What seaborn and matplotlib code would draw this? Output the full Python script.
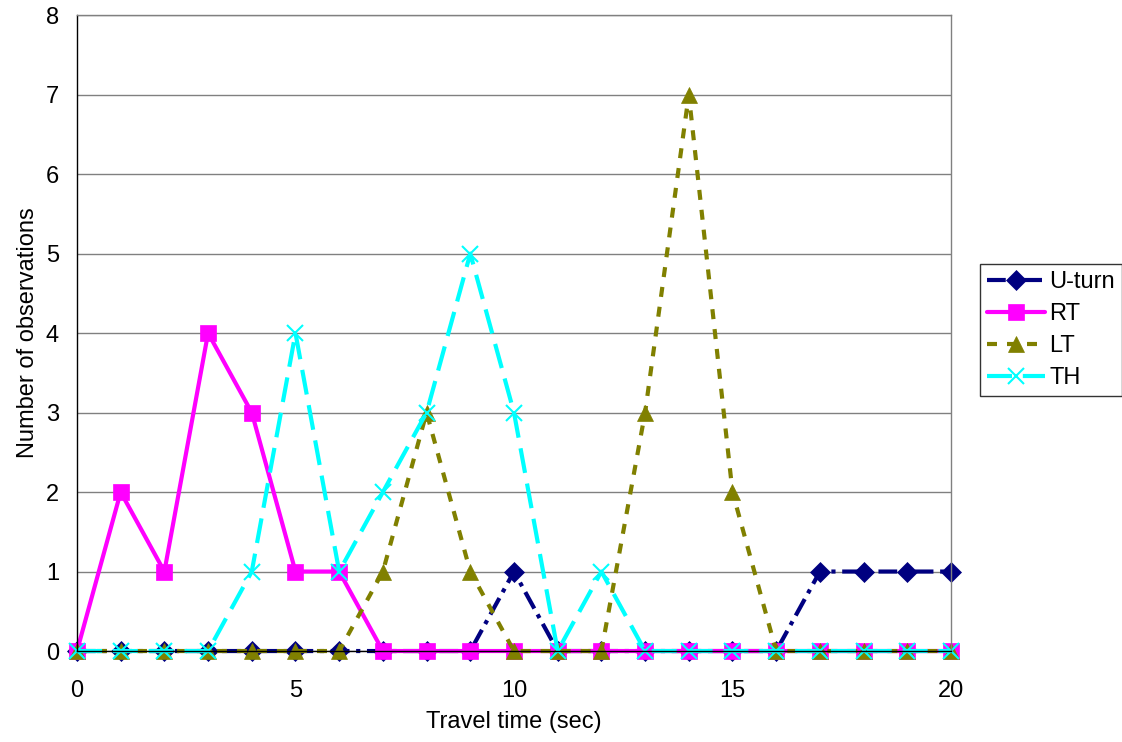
import matplotlib
matplotlib.use("Agg")
import matplotlib.pyplot as plt
import seaborn as sns
import pandas as pd

travel_time = list(range(21))
uturn = [0, 0, 0, 0, 0, 0, 0, 0, 0, 0, 1, 0, 0, 0, 0, 0, 0, 1, 1, 1, 1]
rt = [0, 2, 1, 4, 3, 1, 1, 0, 0, 0, 0, 0, 0, 0, 0, 0, 0, 0, 0, 0, 0]
lt = [0, 0, 0, 0, 0, 0, 0, 1, 3, 1, 0, 0, 0, 3, 7, 2, 0, 0, 0, 0, 0]
th = [0, 0, 0, 0, 1, 4, 1, 2, 3, 5, 3, 0, 1, 0, 0, 0, 0, 0, 0, 0, 0]

series_names = ["U-turn", "RT", "LT", "TH"]
series_values = [uturn, rt, lt, th]

styles = {
    "U-turn": dict(color="#000080", marker="D", ms=10, dashes=(4.5, 1.6, 1, 1.6)),
    "RT": dict(color="#FF00FF", marker="s", ms=12, dashes=None),
    "LT": dict(color="#808000", marker="^", ms=12, dashes=(2.4, 2.4)),
    "TH": dict(color="#00FFFF", marker="x", ms=12, dashes=(6, 2.6)),
}

sns.set_style("white")
plt.rcParams["font.family"] = ["Liberation Sans", "DejaVu Sans"]
plt.rcParams["text.color"] = "black"
plt.rcParams["axes.labelcolor"] = "black"
plt.rcParams["xtick.color"] = "black"
plt.rcParams["ytick.color"] = "black"

fig = plt.figure(figsize=(11.22, 7.42), dpi=100)
ax = fig.add_axes([0.0686, 0.1226, 0.779, 0.857])

for name, vals in zip(series_names, series_values):
    st = styles[name]
    df = pd.DataFrame({"x": travel_time, "y": vals})
    sns.lineplot(data=df, x="x", y="y", ax=ax, color=st["color"], lw=3,
                 marker=st["marker"], markersize=st["ms"],
                 markeredgecolor=st["color"], markerfacecolor=st["color"],
                 markeredgewidth=1.5 if st["marker"] == "x" else 0.5,
                 label=name, clip_on=False)
    line = ax.get_lines()[-1]
    if st["dashes"] is not None:
        line.set_dashes(st["dashes"])
        line.set_dash_capstyle("butt")

ax.set_xlim(0, 20)
ax.set_ylim(0, 8)
ax.set_xticks([0, 5, 10, 15, 20])
ax.set_yticks(range(9))
ax.yaxis.grid(True, color="#808080", lw=1)
ax.set_axisbelow(True)
ax.tick_params(axis="y", length=6, width=1, colors="black", labelsize=17, pad=7)
ax.tick_params(axis="x", length=0, colors="black", labelsize=17, pad=21)
for side in ["top", "right"]:
    ax.spines[side].set_color("#808080")
    ax.spines[side].set_linewidth(1)
for side in ["left", "bottom"]:
    ax.spines[side].set_color("black")
    ax.spines[side].set_linewidth(1)

ax.set_xlabel("Travel time (sec)", fontsize=17, labelpad=6, color="black")
ax.set_ylabel("Number of observations", fontsize=17, labelpad=5, color="black")

leg = ax.legend(loc="center left", bbox_to_anchor=(1.033, 0.505), fontsize=17,
                frameon=True, fancybox=False, edgecolor="black",
                handlelength=2.45, borderpad=0.3, labelspacing=0.42,
                handletextpad=0.2, borderaxespad=0)
leg.get_frame().set_linewidth(1)
for t in leg.get_texts():
    t.set_color("black")

fig.savefig("out.png", dpi=100)
